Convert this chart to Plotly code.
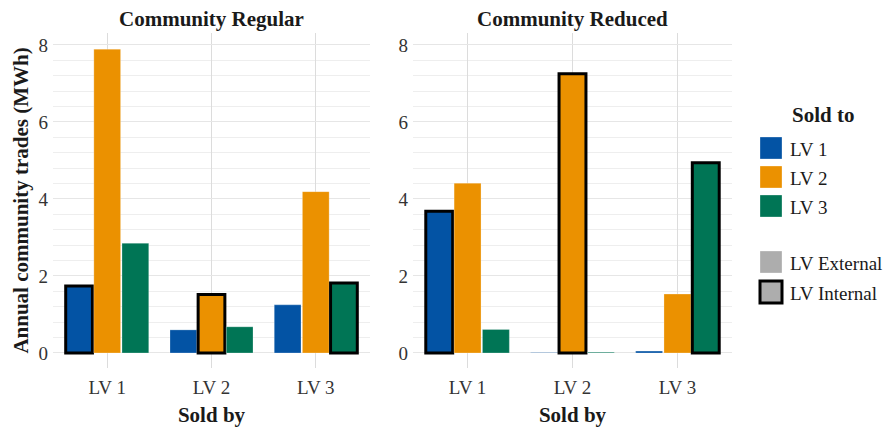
import plotly.graph_objects as go

# ---------------- data ----------------
sellers = ["LV 1", "LV 2", "LV 3"]
buyers = ["LV 1", "LV 2", "LV 3"]
panel_titles = ["Community Regular", "Community Reduced"]

regular_to_lv1 = [1.74, 0.60, 1.25]
regular_to_lv2 = [7.89, 1.52, 4.19]
regular_to_lv3 = [2.85, 0.68, 1.82]

reduced_to_lv1 = [3.68, 0.01, 0.05]
reduced_to_lv2 = [4.41, 7.25, 1.53]
reduced_to_lv3 = [0.61, 0.02, 4.94]

colors = ["#0353A4", "#EB9100", "#007555"]
FONT = "Liberation Serif"
TXT = "#1a1a1a"

panels = [
    [regular_to_lv1, regular_to_lv2, regular_to_lv3],
    [reduced_to_lv1, reduced_to_lv2, reduced_to_lv3],
]

fig = go.Figure()
for p, series in enumerate(panels):
    xa = "x" if p == 0 else "x2"
    ya = "y" if p == 0 else "y2"
    for b, vals in enumerate(series):
        internal = [s == buyers[b] for s in sellers]
        fig.add_trace(go.Bar(
            x=sellers, y=vals, xaxis=xa, yaxis=ya,
            name=buyers[b], showlegend=False,
            marker=dict(
                color=colors[b],
                line=dict(
                    color=["black" if i else "rgba(255,255,255,0.5)" for i in internal],
                    width=[3 if i else 0.5 for i in internal],
                ),
            ),
        ))

# geometry helpers (pixel -> paper)
L, R, T, B = 53, 156, 33, 59
W, H = 888, 427
PW, PH = W - L - R, H - T - B


def PX(px):
    return (px - L) / PW


def PY(py):
    return (H - B - py) / PH


yrange = [-0.39, 8.31]
xrange_ = [-0.52, 2.52]

axis_common = dict(
    type="category", range=xrange_, showgrid=True, gridcolor="#dcdcdc", gridwidth=1,
    showline=False, zeroline=False, ticks="", automargin=False, ticklabelstandoff=6,
    tickfont=dict(family=FONT, size=19, color="#333333"),
    title=dict(text="Sold by", font=dict(family=FONT, size=21, color=TXT, weight="bold"), standoff=17),
)
yaxis_common = dict(
    range=yrange, dtick=2, tick0=0, showgrid=True, gridcolor="#e6e6e6", gridwidth=1,
    minor=dict(dtick=0.4, tick0=0, showgrid=True, gridcolor="#eeeeee", gridwidth=1),
    showline=False, zeroline=False, ticks="", automargin=False, ticklabelstandoff=4,
    tickfont=dict(family=FONT, size=19, color="#333333"),
)

fig.update_layout(
    width=W, height=H, autosize=False,
    margin=dict(l=L, r=R, t=T, b=B),
    plot_bgcolor="white", paper_bgcolor="white",
    barmode="group", bargap=0.19, bargroupgap=0.05,
    showlegend=False,
    xaxis=dict(domain=[0, PX(370)], anchor="y", **axis_common),
    xaxis2=dict(domain=[PX(413), 1], anchor="y2", **axis_common),
    yaxis=dict(anchor="x", title=dict(text="Annual community trades (MWh)",
                                      font=dict(family=FONT, size=21, color=TXT, weight="bold"),
                                      standoff=4), **yaxis_common),
    yaxis2=dict(anchor="x2", **yaxis_common),
)

# panel titles
for p, title in enumerate(panel_titles):
    cx = (0 + PX(370)) / 2 if p == 0 else (PX(413) + 1) / 2
    fig.add_annotation(text=title, x=cx, y=PY(19), xref="paper", yref="paper",
                       showarrow=False, xanchor="center", yanchor="middle",
                       font=dict(family=FONT, size=21, color=TXT, weight="bold"))

# legend (drawn)
fig.add_annotation(text="Sold to", x=PX(823), y=PY(115), xref="paper", yref="paper",
                   showarrow=False, xanchor="center", yanchor="middle",
                   font=dict(family=FONT, size=21, color=TXT, weight="bold"))
leg_rows = [(buyers[0], colors[0], 137, False), (buyers[1], colors[1], 166, False),
            (buyers[2], colors[2], 195, False),
            ("LV External", "#ADADAD", 251, False), ("LV Internal", "#ADADAD", 281, True)]
for label, col, top, outlined in leg_rows:
    fig.add_shape(type="rect", xref="paper", yref="paper",
                  x0=PX(760), x1=PX(782), y0=PY(top + 22), y1=PY(top),
                  fillcolor=col,
                  line=dict(color="black" if outlined else "rgba(255,255,255,0.6)",
                            width=3 if outlined else 0.5))
    fig.add_annotation(text=label, x=PX(788), y=PY(top + 12), xref="paper", yref="paper",
                       showarrow=False, xanchor="left", yanchor="middle",
                       font=dict(family=FONT, size=19, color=TXT))

fig.write_html("out.html", config={"displayModeBar": False},
               post_script="document.body.style.margin='0';")
